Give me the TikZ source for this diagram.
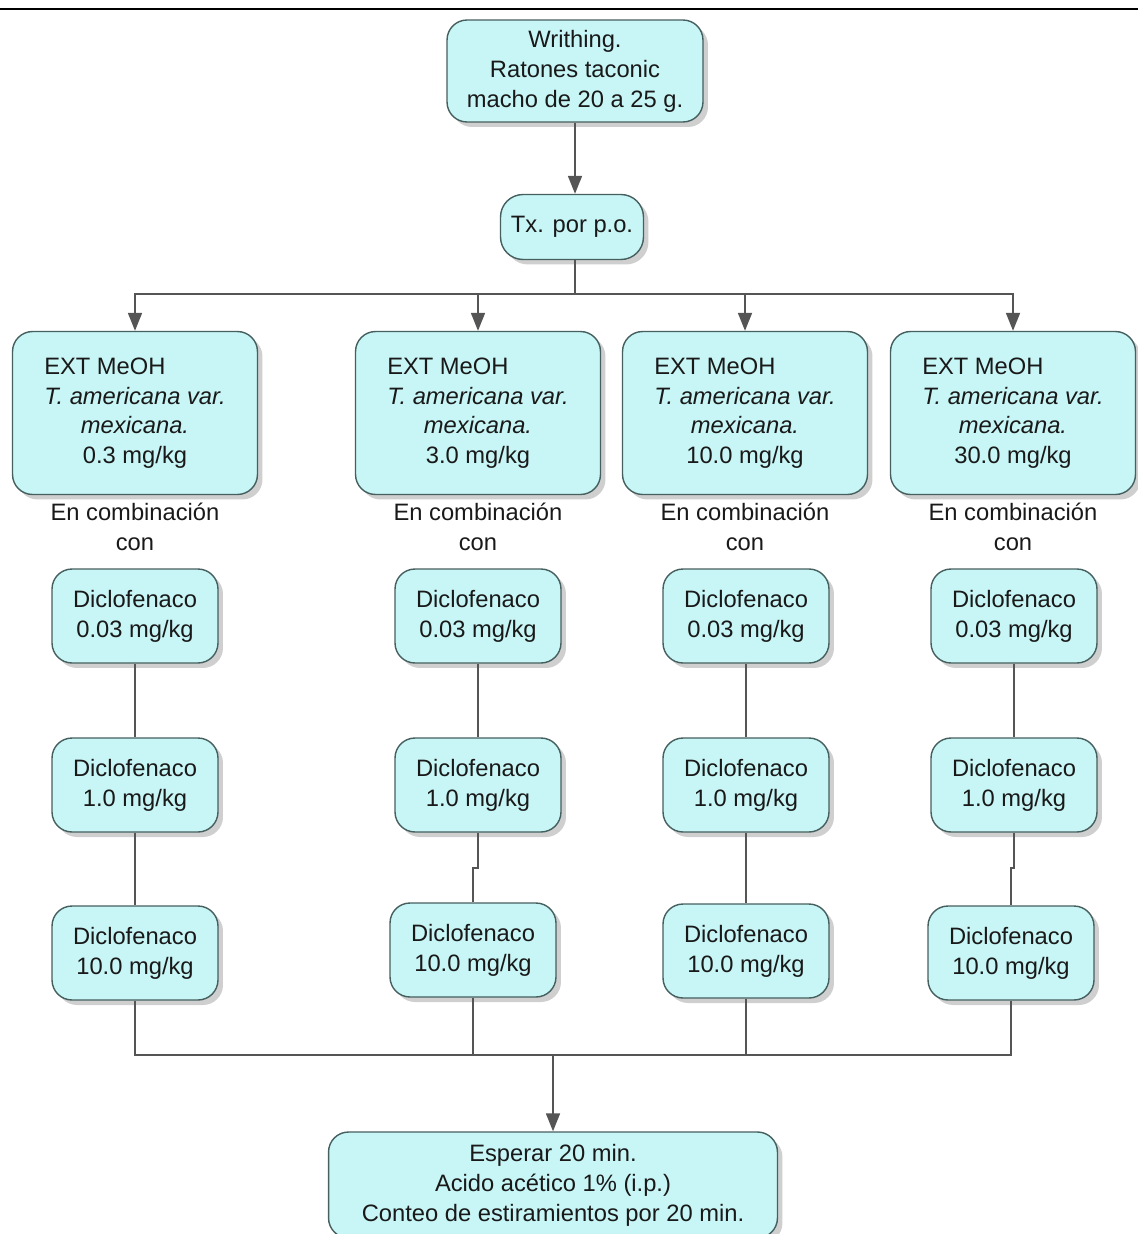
\documentclass[tikz,border=0pt]{standalone}
\usepackage{fontspec}
\setmainfont{Liberation Sans}
\usetikzlibrary{arrows.meta,shadows}

\definecolor{boxfill}{RGB}{200,245,245}
\definecolor{boxline}{RGB}{70,95,95}
\definecolor{wirecol}{RGB}{85,85,85}

\newcommand{\extdose}[1]{\begin{tabular}{@{}l@{}}EXT MeOH\\
    \textit{T. americana var.}\\
    \multicolumn{1}{@{}c@{}}{\textit{mexicana.}}\\
    \multicolumn{1}{@{}c@{}}{#1}\end{tabular}}

\begin{document}
\begin{tikzpicture}[x=0.02cm,y=-0.02cm,
    caja/.style={draw=boxline,fill=boxfill,rounded corners=0.4cm,line width=0.8pt,
        drop shadow={shadow xshift=0.1cm,shadow yshift=-0.1cm,fill=gray!75},
        align=center,text=black!90,font=\fontsize{13.5}{17}\selectfont,inner sep=2pt},
    extbox/.style={caja,minimum width=4.9cm,minimum height=3.26cm},
    dosebox/.style={caja,minimum width=3.32cm,minimum height=1.88cm},
    combo/.style={align=center,text=black!90,font=\fontsize{13.5}{17}\selectfont},
    wire/.style={draw=wirecol,line width=1pt},
    arr/.style={wire,-{Triangle[length=0.36cm,width=0.28cm]}}]
        \useasboundingbox (0,0) rectangle (1138,1234);
        \draw [line width=0.8pt] (0,9) -- (1138,9);

        % start
        \node[caja,minimum width=5.12cm,minimum height=2.04cm] (writhing) at (575,71)
            {Writhing.\\Ratones taconic\\macho de 20 a 25 g.};
        \node[caja,minimum width=2.86cm,minimum height=1.3cm,rounded corners=0.45cm] (tx)
            at (572,227) {Tx. por p.o.};

        % extract doses
        \node[extbox] (extA) at (135,413) {\extdose{0.3 mg/kg}};
        \node[extbox] (extB) at (478,413) {\extdose{3.0 mg/kg}};
        \node[extbox] (extC) at (745,413) {\extdose{10.0 mg/kg}};
        \node[extbox] (extD) at (1013,413) {\extdose{30.0 mg/kg}};
        \node[combo] (combA) at (135,527) {En combinación\\con};
        \node[combo] (combB) at (478,527) {En combinación\\con};
        \node[combo] (combC) at (745,527) {En combinación\\con};
        \node[combo] (combD) at (1013,527) {En combinación\\con};

        % diclofenaco
        \node[dosebox] (dcA1) at (135,616) {Diclofenaco\\0.03 mg/kg};
        \node[dosebox] (dcA2) at (135,785) {Diclofenaco\\1.0 mg/kg};
        \node[dosebox] (dcA3) at (135,953) {Diclofenaco\\10.0 mg/kg};
        \node[dosebox] (dcB1) at (478,616) {Diclofenaco\\0.03 mg/kg};
        \node[dosebox] (dcB2) at (478,785) {Diclofenaco\\1.0 mg/kg};
        \node[dosebox] (dcB3) at (473,950) {Diclofenaco\\10.0 mg/kg};
        \node[dosebox] (dcC1) at (746,616) {Diclofenaco\\0.03 mg/kg};
        \node[dosebox] (dcC2) at (746,785) {Diclofenaco\\1.0 mg/kg};
        \node[dosebox] (dcC3) at (746,951) {Diclofenaco\\10.0 mg/kg};
        \node[dosebox] (dcD1) at (1014,616) {Diclofenaco\\0.03 mg/kg};
        \node[dosebox] (dcD2) at (1014,785) {Diclofenaco\\1.0 mg/kg};
        \node[dosebox] (dcD3) at (1011,953) {Diclofenaco\\10.0 mg/kg};

        % end
        \node[caja,minimum width=8.98cm,minimum height=2.12cm] (final) at (553,1185)
            {Esperar 20 min.\\Acido acético 1\% (i.p.)\\Conteo de estiramientos por 20 min.};

        % connectors
        \coordinate (split) at (575,294);
        \coordinate (join) at (553,1055);
        \draw [arr] (writhing.south) -- (writhing.south |- tx.north);
        \draw [wire] (split |- tx.south) -- (split);
        \draw [arr] (split) -| (extA.north);
        \draw [arr] (split) -| (extB.north);
        \draw [arr] (split) -| (extC.north);
        \draw [arr] (split) -| (extD.north);
        \draw [wire] (dcA1.south) -- (dcA2.north);
        \draw [wire] (dcA2.south) -- (dcA3.north -| dcA2.south);
        \draw [wire] (dcB1.south) -- (dcB2.north);
        \draw [wire] (dcB2.south) -- ++(0,35) -| (dcB3.north);
        \draw [wire] (dcC1.south) -- (dcC2.north);
        \draw [wire] (dcC2.south) -- (dcC3.north);
        \draw [wire] (dcD1.south) -- (dcD2.north);
        \draw [wire] (dcD2.south) -- ++(0,35) -| (dcD3.north);
        \draw [wire] (dcA3.south) |- (join);
        \draw [wire] (dcB3.south) |- (join);
        \draw [wire] (dcC3.south) |- (join);
        \draw [wire] (dcD3.south) |- (join);
        \draw [arr] (join) -- (final);
\end{tikzpicture}
\end{document}
